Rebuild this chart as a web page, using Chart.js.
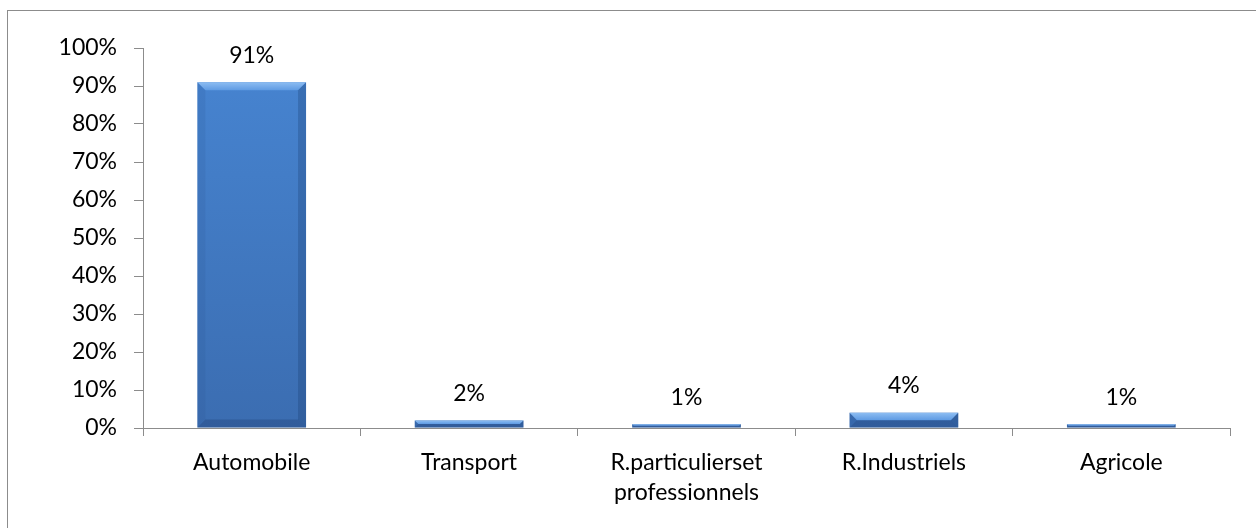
<!DOCTYPE html>
<html>
<head>
<meta charset="utf-8">
<script src="https://cdn.jsdelivr.net/npm/chart.js@4/dist/chart.umd.min.js"></script>
<style>
  html, body { margin: 0; padding: 0; background: #fff; }
  #wrap { position: relative; width: 1256px; height: 528px; overflow: hidden; }
  #frame { position: absolute; left: 7px; top: 10px; width: 1300px; height: 600px; border: 1px solid #8c8c8c; box-sizing: border-box; }
  canvas { position: absolute; left: 0; top: 0; }
</style>
</head>
<body>
<div id="wrap">
  <div id="frame"></div>
  <canvas id="c" width="1256" height="528"></canvas>
</div>
<script>
// Secteurs et parts (en %)
const categories = ['Automobile', 'Transport', ['R.particulierset', 'professionnels'], 'R.Industriels', 'Agricole'];
const shares = [91, 2, 1, 4, 1];
const yTicks = [0, 10, 20, 30, 40, 50, 60, 70, 80, 90, 100];

const FONT = 'Lato, "Open Sans", sans-serif';
const FONT_SIZE = 23;
const AXIS = '#8c8c8c';

// Face of each bar: vertical gradient, slightly darker toward the base
function faceFill(ctx) {
  const chart = ctx.chart;
  const area = chart.chartArea;
  if (!area) return '#4a84cf';
  const g = chart.ctx.createLinearGradient(0, area.top, 0, area.bottom);
  g.addColorStop(0, '#4785d2');
  g.addColorStop(1, '#3b6db1');
  return g;
}

// Bevelled edges drawn over each bar element
const bevelPlugin = {
  id: 'bevel',
  afterDatasetsDraw(chart) {
    const c = chart.ctx;
    const meta = chart.getDatasetMeta(0);
    meta.data.forEach(bar => {
      const p = bar.getProps(['x', 'y', 'base', 'width'], true);
      const l = p.x - p.width / 2, r = p.x + p.width / 2;
      const t = p.y, b = p.base;
      const h = b - t;
      const s = Math.min(8, h / 2, p.width / 2);
      c.save();
      // top
      c.beginPath();
      c.moveTo(l, t); c.lineTo(r, t); c.lineTo(r - s, t + s); c.lineTo(l + s, t + s); c.closePath();
      const gt = c.createLinearGradient(0, t, 0, t + s);
      gt.addColorStop(0, '#8dbdf2'); gt.addColorStop(1, '#5f9be3');
      c.fillStyle = gt; c.fill();
      // left
      c.beginPath();
      c.moveTo(l, t); c.lineTo(l + s, t + s); c.lineTo(l + s, b - s); c.lineTo(l, b); c.closePath();
      c.fillStyle = 'rgba(40,80,140,0.15)'; c.fill();
      // right
      c.beginPath();
      c.moveTo(r, t); c.lineTo(r - s, t + s); c.lineTo(r - s, b - s); c.lineTo(r, b); c.closePath();
      c.fillStyle = 'rgba(20,50,100,0.25)'; c.fill();
      // bottom
      c.beginPath();
      c.moveTo(l, b); c.lineTo(r, b); c.lineTo(r - s, b - s); c.lineTo(l + s, b - s); c.closePath();
      c.fillStyle = 'rgba(20,45,90,0.25)'; c.fill();
      c.restore();
    });
  }
};

// Value labels above each bar
const valueLabels = {
  id: 'valueLabels',
  afterDatasetsDraw(chart) {
    const c = chart.ctx;
    const meta = chart.getDatasetMeta(0);
    c.save();
    c.font = FONT_SIZE + 'px ' + FONT;
    c.fillStyle = '#000';
    c.textAlign = 'center';
    c.textBaseline = 'middle';
    meta.data.forEach((bar, i) => {
      c.fillText(shares[i] + '%', bar.x, bar.y - 27);
    });
    c.restore();
  }
};

new Chart(document.getElementById('c'), {
  type: 'bar',
  data: {
    labels: categories,
    datasets: [{
      data: shares,
      backgroundColor: faceFill,
      borderWidth: 0,
      barPercentage: 0.5,
      categoryPercentage: 1.0
    }]
  },
  options: {
    responsive: false,
    devicePixelRatio: 1,
    animation: false,
    layout: { padding: { left: 0, right: 26, top: 48, bottom: 0 } },
    plugins: { legend: { display: false }, tooltip: { enabled: false } },
    scales: {
      x: {
        grid: { offset: true, drawOnChartArea: false, drawTicks: true, tickLength: 8, color: AXIS, lineWidth: 1 },
        border: { color: AXIS, width: 1 },
        ticks: { color: '#000', font: { family: FONT, size: FONT_SIZE, lineHeight: 1.3 }, padding: 12, maxRotation: 0, autoSkip: false },
        afterFit(scale) { scale.height = 100; }
      },
      y: {
        min: 0, max: 100,
        afterBuildTicks(scale) { scale.ticks = yTicks.map(v => ({ value: v })); },
        grid: { drawOnChartArea: false, drawTicks: true, tickLength: 9, color: AXIS, lineWidth: 1 },
        border: { color: AXIS, width: 1 },
        ticks: { color: '#000', font: { family: FONT, size: FONT_SIZE }, padding: 17, callback: v => v + '%' },
        afterFit(scale) { scale.width = 143; }
      }
    }
  },
  plugins: [bevelPlugin, valueLabels]
});
</script>
</body>
</html>
